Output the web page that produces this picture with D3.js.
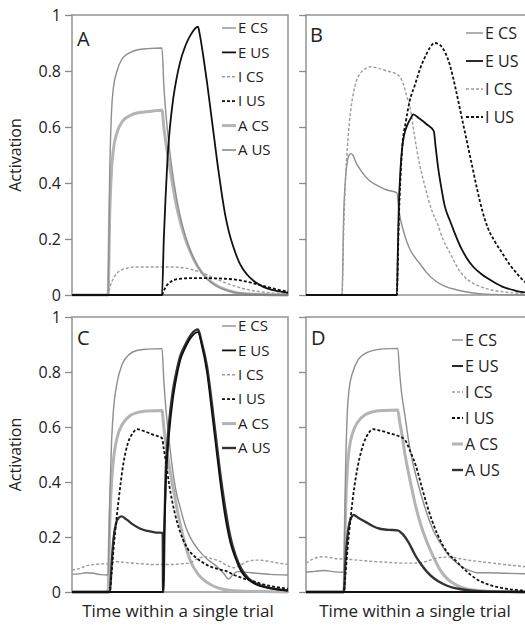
<!DOCTYPE html>
<html>
<head>
<meta charset="utf-8">
<script src="https://cdn.jsdelivr.net/npm/d3@7"></script>
<style>
  body { margin: 0; background: #fff; }
  svg { display: block; font-family: "Open Sans", sans-serif; }
</style>
</head>
<body>
<div id="chart"></div>
<script>
// ---- data: [time, activation] ----
// panel A
const aECS = [[0,0],[20,0],[21,0.45],[22,0.66],[23,0.74],[25,0.8],[28,0.845],[32,0.865],[36,0.875],[42,0.88],[50,0.882],[51,0.75],[52,0.66],[54,0.53],[56,0.43],[58,0.35],[60,0.285],[63,0.21],[66,0.155],[70,0.1],[75,0.058],[80,0.033],[85,0.018],[90,0.01],[100,0.003],[120,0]];
const aEUS = [[0,0],[50,0],[51,0.2],[52,0.35],[53,0.48],[54,0.57],[56,0.69],[58,0.77],[60,0.83],[63,0.89],[66,0.93],[70,0.958],[71,0.93],[73,0.85],[75,0.76],[77,0.66],[79,0.56],[81,0.46],[83,0.37],[85,0.29],[87,0.23],[90,0.165],[93,0.115],[97,0.075],[101,0.05],[106,0.03],[112,0.017],[120,0.008]];
const aICS = [[0,0],[20,0],[21,0.025],[22,0.045],[24,0.07],[27,0.088],[30,0.095],[35,0.1],[45,0.1],[55,0.1],[62,0.097],[67,0.09],[72,0.08],[77,0.066],[82,0.052],[88,0.037],[94,0.025],[100,0.016],[110,0.008],[120,0.004]];
const aIUS = [[0,0],[50,0],[51,0.015],[52,0.028],[54,0.043],[57,0.054],[60,0.058],[65,0.06],[75,0.06],[85,0.058],[92,0.054],[98,0.046],[104,0.036],[110,0.026],[115,0.018],[120,0.012]];
const aACS = [[0,0],[20,0],[21,0.3],[22,0.45],[23,0.52],[25,0.58],[28,0.62],[32,0.64],[36,0.65],[42,0.655],[50,0.66],[51,0.6],[52,0.55],[54,0.47],[56,0.39],[58,0.32],[60,0.265],[63,0.2],[66,0.15],[70,0.1],[75,0.06],[80,0.035],[85,0.02],[90,0.01],[100,0.003],[120,0]];
const aAUS = [[0,0],[120,0]];

// panel B
const bECS = [[0,0],[20,0],[21,0.3],[22,0.42],[23,0.48],[24,0.5],[25,0.505],[26,0.5],[28,0.47],[31,0.44],[35,0.41],[40,0.39],[45,0.375],[50.5,0.365],[51.5,0.31],[52.5,0.27],[54,0.232],[56,0.19],[58,0.16],[61,0.13],[63.5,0.11],[67,0.08],[72,0.05],[77,0.032],[84,0.018],[92,0.008],[100,0.003],[125,0]];
const bEUS = [[0,0],[50.5,0],[51,0.15],[51.5,0.3],[52.5,0.45],[53.5,0.53],[54.5,0.57],[56.5,0.61],[58.5,0.635],[59.5,0.645],[63,0.63],[67,0.61],[71,0.585],[72,0.53],[73.5,0.45],[75,0.39],[77,0.32],[80,0.265],[83,0.215],[86,0.17],[89,0.135],[93,0.1],[97,0.077],[102,0.055],[109,0.03],[116,0.016],[125,0.006]];
const bICS = [[0,0],[20,0],[21,0.25],[22,0.42],[23,0.53],[24,0.61],[26,0.71],[28,0.765],[30,0.79],[33,0.808],[36,0.815],[40,0.81],[45,0.8],[50,0.79],[52,0.78],[54,0.755],[56,0.71],[58,0.665],[60,0.58],[63,0.47],[66,0.39],[70,0.3],[73,0.255],[76,0.2],[80,0.15],[84,0.1],[88,0.065],[92,0.045],[97,0.03],[103,0.018],[110,0.011],[125,0.004]];
const bIUS = [[0,0],[50.5,0],[51,0.12],[51.5,0.25],[52.5,0.42],[53.5,0.53],[55.5,0.62],[57.5,0.69],[60.5,0.75],[63.5,0.81],[66.5,0.855],[69,0.885],[71.5,0.9],[74,0.895],[77,0.87],[80,0.82],[83,0.74],[86,0.65],[89,0.56],[92,0.47],[95,0.38],[98,0.3],[101,0.24],[105,0.19],[109,0.15],[113,0.11],[117,0.078],[121,0.05],[125,0.033]];

// panel C
const cECS = [[0,0.065],[4,0.066],[8,0.07],[12,0.068],[16,0.063],[20,0.062],[21,0.35],[22,0.55],[23,0.66],[25,0.76],[28,0.83],[32,0.865],[36,0.878],[42,0.883],[50,0.885],[51,0.77],[52,0.68],[54,0.55],[56,0.44],[58,0.36],[60,0.31],[63,0.24],[66,0.195],[70,0.155],[75,0.12],[80,0.095],[84,0.07],[87,0.047],[89,0.06],[92,0.074],[100,0.07],[110,0.064],[120,0.062]];
const cEUS = [[0,0],[50.5,0],[51.3,0.22],[52,0.38],[53,0.5],[54,0.58],[56,0.7],[58,0.78],[60,0.84],[63,0.89],[66,0.925],[70,0.945],[72,0.9],[75,0.8],[78,0.64],[80,0.53],[82,0.42],[85,0.28],[88,0.18],[91,0.12],[94,0.075],[98,0.045],[102,0.028],[110,0.013],[120,0.005]];
const cICS = [[0,0.08],[4,0.085],[8,0.095],[12,0.1],[16,0.102],[20,0.103],[22,0.108],[25,0.11],[30,0.107],[35,0.104],[40,0.102],[45,0.1],[50,0.1],[55,0.1],[60,0.102],[65,0.105],[70,0.122],[74,0.128],[78,0.12],[82,0.112],[86,0.097],[90,0.088],[93,0.095],[97,0.11],[102,0.116],[106,0.115],[112,0.108],[120,0.1]];
const cIUS = [[0,0],[21,0],[22,0.07],[23,0.15],[24,0.22],[26,0.34],[28.5,0.465],[31,0.54],[34,0.58],[36,0.592],[40,0.585],[45,0.572],[50,0.56],[51,0.52],[52,0.48],[54,0.39],[57,0.29],[60,0.22],[64,0.16],[68,0.13],[72,0.11],[77,0.092],[82,0.082],[86,0.075],[90,0.062],[95,0.05],[100,0.04],[105,0.03],[110,0.022],[120,0.012]];
const cACS = [[0,0],[20,0],[21,0.25],[22,0.4],[23,0.48],[25,0.56],[28,0.61],[32,0.64],[36,0.652],[42,0.658],[50,0.66],[51,0.6],[52,0.55],[54,0.46],[57,0.35],[60,0.25],[63,0.17],[66,0.11],[70,0.065],[75,0.035],[80,0.018],[90,0.005],[120,0]];
const cAUS = [[0,0],[21,0],[22,0.1],[23,0.19],[24.5,0.25],[26,0.27],[27.5,0.275],[30,0.265],[34,0.245],[38,0.23],[42,0.222],[46,0.217],[50.4,0.215],[50.6,0],[50.8,0],[51.4,0.25],[52,0.42],[53,0.54],[54,0.62],[56,0.73],[58,0.8],[60,0.855],[63,0.9],[66,0.935],[70,0.955],[72,0.91],[75,0.82],[78,0.67],[80,0.56],[82,0.45],[85,0.31],[88,0.2],[91,0.13],[94,0.085],[98,0.05],[102,0.032],[110,0.015],[120,0.006]];

// panel D
const dECS = [[0,0.072],[5,0.075],[10,0.078],[15,0.074],[21,0.072],[22,0.45],[23,0.66],[24,0.74],[26,0.8],[29,0.845],[33,0.868],[37,0.878],[43,0.884],[51,0.886],[52,0.8],[53,0.73],[55,0.64],[57,0.55],[59,0.48],[62,0.4],[65,0.33],[68,0.27],[71,0.22],[75,0.175],[79,0.135],[83,0.11],[87,0.09],[91,0.078],[95,0.07],[101,0.07],[111,0.068],[125,0.066]];
const dEUS = [[0,0],[125,0]];
const dICS = [[0,0.105],[4,0.12],[8,0.128],[12,0.127],[16,0.122],[20,0.12],[25,0.118],[30,0.115],[35,0.112],[40,0.11],[45,0.108],[50,0.106],[55,0.105],[60,0.105],[65,0.108],[70,0.118],[75,0.126],[80,0.127],[85,0.122],[90,0.116],[95,0.112],[100,0.108],[110,0.1],[125,0.09]];
const dIUS = [[0,0],[21,0],[22,0.07],[23,0.15],[24,0.22],[26,0.34],[29,0.465],[32,0.54],[35,0.58],[37,0.592],[41,0.587],[46,0.578],[51,0.568],[55,0.553],[58,0.51],[61,0.46],[64,0.39],[67,0.32],[70,0.26],[73,0.21],[76,0.17],[79,0.14],[83,0.115],[86,0.095],[91,0.065],[96,0.042],[101,0.028],[111,0.012],[125,0.004]];
const dACS = [[0,0],[21,0],[22,0.3],[23,0.45],[24,0.52],[26,0.58],[29,0.62],[33,0.645],[37,0.655],[43,0.66],[51,0.662],[52,0.62],[53,0.585],[55,0.5],[58,0.4],[61,0.31],[64,0.24],[67,0.185],[71,0.125],[75,0.075],[79,0.045],[83,0.027],[89,0.012],[101,0.003],[125,0]];
const dAUS = [[0,0],[21,0],[22,0.12],[23,0.2],[24.5,0.26],[26.5,0.28],[29,0.27],[33,0.255],[37,0.24],[41,0.23],[46,0.226],[51,0.224],[53,0.215],[55,0.2],[57,0.18],[59,0.155],[61,0.13],[64,0.1],[67,0.075],[71,0.05],[76,0.03],[81,0.017],[86,0.01],[96,0.003],[125,0]];

const yTicks = [0, 0.2, 0.4, 0.6, 0.8, 1];
const legendA = ["E CS", "E US", "I CS", "I US", "A CS", "A US"];
const legendB = ["E CS", "E US", "I CS", "I US"];
const xTitle = "Time within a single trial";
const yTitle = "Activation";

// ---- styles ----
const style = {
  "E CS": { stroke: "#8e8e8e", width: 1.4 },
  "E US": { stroke: "#111", width: 1.8 },
  "I CS": { stroke: "#9c9c9c", width: 1.4, dash: "3,2" },
  "I US": { stroke: "#111", width: 1.8, dash: "3,2" },
  "A CS": { stroke: "#b4b4b4", width: 3 },
  "A US": { stroke: "#333", width: 2.4 }
};
const styleAUSthin = { stroke: "#7a7a7a", width: 1.4 };

const panels = [
  { name: "A", left: 72, top: 15, w: 216, h: 280, tmax: 120, labels: true,
    data: { "E CS": aECS, "E US": aEUS, "I CS": aICS, "I US": aIUS, "A CS": aACS, "A US": aAUS },
    legend: legendA, lx: 150, ly: 13, ldy: 24.4, llen: 14, lsize: 15, letter: [5, 31], thinAUS: true },
  { name: "B", left: 306, top: 15, w: 225, h: 280, tmax: 125, labels: false,
    data: { "E CS": bECS, "E US": bEUS, "I CS": bICS, "I US": bIUS },
    legend: legendB, lx: 160, ly: 18, ldy: 28, llen: 17, lsize: 16, letter: [4, 27] },
  { name: "C", left: 72, top: 317, w: 216, h: 275, tmax: 120, labels: true,
    data: { "E CS": cECS, "E US": cEUS, "I CS": cICS, "I US": cIUS, "A CS": cACS, "A US": cAUS },
    legend: legendA, lx: 150, ly: 9, ldy: 24.4, llen: 14, lsize: 15, letter: [5, 28] },
  { name: "D", left: 306, top: 317, w: 225, h: 275, tmax: 125, labels: false,
    data: { "E CS": dECS, "E US": dEUS, "I CS": dICS, "I US": dIUS, "A CS": dACS, "A US": dAUS },
    legend: legendA, lx: 146, ly: 23, ldy: 26, llen: 11, lsize: 16, letter: [5, 28] }
];

const drawOrder = ["A CS", "E CS", "I CS", "A US", "I US", "E US"];

const svg = d3.select("#chart").append("svg")
  .attr("width", 525)
  .attr("height", 625);

panels.forEach(p => {
  const g = svg.append("g").attr("transform", "translate(" + p.left + "," + p.top + ")");

  const x = d3.scaleLinear().domain([0, p.tmax]).range([0, p.w]);
  const y = d3.scaleLinear().domain([0, 1]).range([p.h, 0]);

  // frame
  g.append("rect")
    .attr("width", p.w).attr("height", p.h)
    .attr("fill", "none").attr("stroke", "#9a9a9a").attr("stroke-width", 1.6);

  const yAxis = d3.axisLeft(y).tickValues(yTicks).tickSize(7).tickPadding(4)
    .tickFormat(p.labels ? d3.format("~g") : "");
  const ya = g.append("g").call(yAxis);
  ya.select(".domain").remove();
  ya.selectAll(".tick line").attr("stroke", "#8a8a8a").attr("stroke-width", 1.3);
  ya.selectAll(".tick text").attr("fill", "#222").style("font-size", "16px")
    .style("font-family", "Open Sans, sans-serif");

  const line = d3.line()
    .x(d => x(d[0]))
    .y(d => y(d[1]))
    .curve(d3.curveMonotoneX);

  const sty = k => (k === "A US" && p.thinAUS) ? styleAUSthin : style[k];

  drawOrder.filter(k => p.data[k]).forEach(k => {
    const s = sty(k);
    g.append("path")
      .datum(p.data[k])
      .attr("d", line)
      .attr("fill", "none")
      .attr("stroke", s.stroke)
      .attr("stroke-width", s.width)
      .attr("stroke-dasharray", s.dash || null)
      .attr("stroke-linejoin", "round");
  });

  // legend
  const lg = g.append("g").attr("transform", "translate(" + p.lx + "," + p.ly + ")");
  p.legend.forEach((k, i) => {
    const s = sty(k);
    const row = lg.append("g").attr("transform", "translate(0," + (i * p.ldy) + ")");
    row.append("line")
      .attr("x1", 0).attr("x2", p.llen)
      .attr("stroke", s.stroke)
      .attr("stroke-width", s.width)
      .attr("stroke-dasharray", s.dash || null);
    row.append("text")
      .attr("x", p.llen + 2)
      .attr("dy", "0.35em")
      .style("font-size", p.lsize + "px")
      .attr("fill", "#222")
      .text(k);
  });

  // panel letter
  g.append("text")
    .attr("x", p.letter[0]).attr("y", p.letter[1])
    .style("font-size", "20px")
    .attr("fill", "#222")
    .text(p.name);

  if (p.labels) {
    g.append("text")
      .attr("transform", "translate(-51," + (p.h / 2) + ") rotate(-90)")
      .attr("text-anchor", "middle")
      .style("font-size", "16px")
      .attr("fill", "#222")
      .text(yTitle);
  }
});

// x titles
svg.append("text").attr("x", 178).attr("y", 617).attr("text-anchor", "middle")
  .style("font-size", "17px").attr("fill", "#222").text(xTitle);
svg.append("text").attr("x", 415).attr("y", 617).attr("text-anchor", "middle")
  .style("font-size", "17px").attr("fill", "#222").text(xTitle);
</script>
</body>
</html>
